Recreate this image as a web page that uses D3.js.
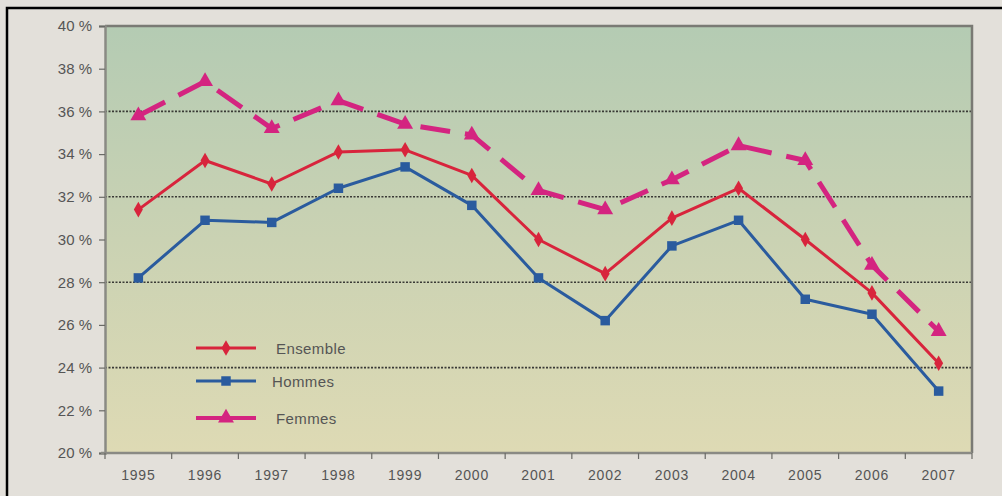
<!DOCTYPE html>
<html>
<head>
<meta charset="utf-8">
<style>
  body { margin: 0; background: #e3e0da; }
  svg { display: block; font-family: "Liberation Sans", Arial, sans-serif; }
</style>
<title>Ensemble, Hommes, Femmes 1995-2007</title>
</head>
<body>
<script src="https://cdn.jsdelivr.net/npm/d3@7/dist/d3.min.js"></script>
<script>
  // data (percent)
  const years = ["1995","1996","1997","1998","1999","2000","2001","2002","2003","2004","2005","2006","2007"];
  const ensemble = [31.4, 33.7, 32.6, 34.1, 34.2, 33.0, 30.0, 28.4, 31.0, 32.4, 30.0, 27.5, 24.2];
  const hommes   = [28.2, 30.9, 30.8, 32.4, 33.4, 31.6, 28.2, 26.2, 29.7, 30.9, 27.2, 26.5, 22.9];
  const femmes   = [35.8, 37.4, 35.2, 36.5, 35.4, 34.9, 32.3, 31.4, 32.8, 34.4, 33.7, 28.8, 25.7];
  const yTicks = [20, 22, 24, 26, 28, 30, 32, 34, 36, 38, 40];
  const gridTicks = [24, 28, 32, 36];

  const W = 1002, H = 496;
  const margin = {top: 26, right: 30, bottom: 43, left: 105};
  const width = W - margin.left - margin.right;
  const height = H - margin.top - margin.bottom;

  const x = d3.scaleBand().domain(years).range([0, width]);
  const y = d3.scaleLinear().domain([20, 40]).range([height, 0]);

  const svg = d3.select("body").append("svg")
    .attr("width", W)
    .attr("height", H);

  // outer black frame (cropped screenshot)
  svg.append("path")
    .attr("d", "M7," + H + "V8H" + W)
    .attr("fill", "none")
    .attr("stroke", "#000")
    .attr("stroke-width", 2.5);

  const defs = svg.append("defs");
  const grad = defs.append("linearGradient")
    .attr("id", "bg").attr("x1", 0).attr("y1", 0).attr("x2", 0).attr("y2", 1);
  grad.append("stop").attr("offset", "0%").attr("stop-color", "#b4cbb3");
  grad.append("stop").attr("offset", "50%").attr("stop-color", "#cad2b3");
  grad.append("stop").attr("offset", "100%").attr("stop-color", "#dedab4");

  const g = svg.append("g")
    .attr("transform", "translate(" + margin.left + "," + margin.top + ")");

  // plot background
  g.append("rect")
    .attr("width", width)
    .attr("height", height)
    .attr("fill", "url(#bg)");

  // dotted grid lines
  g.selectAll(".grid")
    .data(gridTicks)
    .enter().append("line")
    .attr("x1", 0).attr("x2", width)
    .attr("y1", d => y(d)).attr("y2", d => y(d))
    .attr("stroke", "#3a3a36")
    .attr("stroke-width", 1.6)
    .attr("stroke-dasharray", "2,1.5");

  // plot frame top and right
  g.append("path")
    .attr("d", "M0,0H" + width + "V" + height)
    .attr("fill", "none")
    .attr("stroke", "#7a7a74")
    .attr("stroke-width", 2.5);

  // Y axis
  const yAxis = g.append("g")
    .call(d3.axisLeft(y).tickValues(yTicks).tickSize(6).tickFormat(d => d + " %"));
  yAxis.select(".domain").attr("stroke", "#8a8a84").attr("stroke-width", 2.5);
  yAxis.selectAll(".tick line").attr("stroke", "#6a6a66").attr("stroke-width", 1.2);
  yAxis.selectAll(".tick text")
    .attr("x", -13)
    .attr("fill", "#555")
    .style("font-size", "15px");

  // X axis, ticks at band boundaries
  const xAxis = g.append("g")
    .attr("transform", "translate(0," + height + ")");
  xAxis.append("line")
    .attr("x1", -4).attr("x2", width)
    .attr("stroke", "#8a8a84").attr("stroke-width", 2.5);
  xAxis.selectAll(".xt")
    .data(years.concat(["end"]))
    .enter().append("line")
    .attr("x1", (d, i) => i * x.step()).attr("x2", (d, i) => i * x.step())
    .attr("y1", 0).attr("y2", 6)
    .attr("stroke", "#6a6a66").attr("stroke-width", 1.2);
  xAxis.selectAll(".xl")
    .data(years)
    .enter().append("text")
    .attr("x", d => x(d) + x.bandwidth() / 2)
    .attr("y", 27)
    .attr("text-anchor", "middle")
    .attr("fill", "#555")
    .style("font-size", "14px")
    .style("letter-spacing", "0.8px")
    .text(d => d);

  const cx = d => x(d) + x.bandwidth() / 2;
  const line = d3.line().x((d, i) => cx(years[i])).y(d => y(d));

  const series = [
    {name: "Ensemble", values: ensemble, color: "#d8243c", width: 3, dash: null, shape: d3.symbolDiamond, size: 70},
    {name: "Hommes", values: hommes, color: "#2a5b9e", width: 3, dash: null, shape: d3.symbolSquare, size: 90},
    {name: "Femmes", values: femmes, color: "#d42480", width: 5, dash: "30,15", shape: d3.symbolTriangle, size: 110}
  ];

  // draw Femmes first so red and blue sit above it
  [series[2], series[0], series[1]].forEach(s => {
    g.append("path")
      .datum(s.values)
      .attr("d", line)
      .attr("fill", "none")
      .attr("stroke", s.color)
      .attr("stroke-width", s.width)
      .attr("stroke-linejoin", "round")
      .attr("stroke-dasharray", s.dash);
    g.selectAll(null)
      .data(s.values)
      .enter().append("path")
      .attr("transform", (d, i) => "translate(" + cx(years[i]) + "," + y(d) + ")")
      .attr("d", d3.symbol().type(s.shape).size(s.size))
      .attr("fill", s.color);
  });

  // legend
  const legend = svg.append("g");
  const legY = [348, 381, 418];
  series.forEach((s, i) => {
    const lg = legend.append("g").attr("transform", "translate(196," + legY[i] + ")");
    lg.append("line")
      .attr("x1", 0).attr("x2", 60)
      .attr("stroke", s.color)
      .attr("stroke-width", i === 2 ? 4 : 3);
    lg.append("path")
      .attr("transform", "translate(30,0)")
      .attr("d", d3.symbol().type(s.shape).size(s.size))
      .attr("fill", s.color);
    lg.append("text")
      .attr("x", i === 1 ? 76 : 80)
      .attr("y", 6)
      .attr("fill", "#555")
      .style("font-size", "15px")
      .style("letter-spacing", "0.4px")
      .text(s.name);
  });
</script>
</body>
</html>
